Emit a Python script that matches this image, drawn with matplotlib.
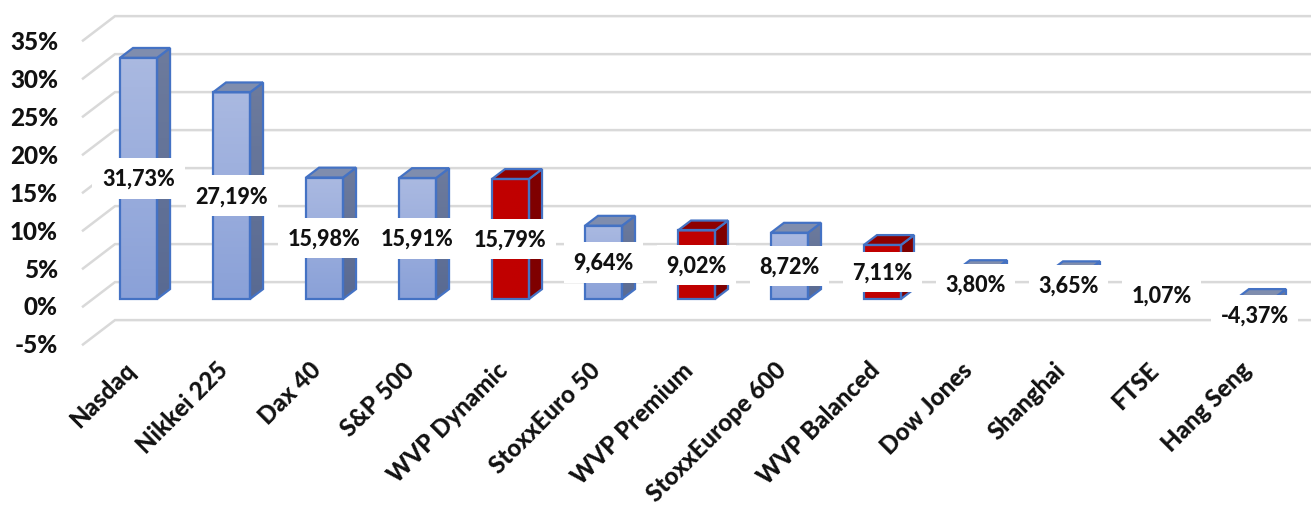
import numpy as np
import matplotlib
matplotlib.use("Agg")
import matplotlib.pyplot as plt
from matplotlib.patches import Polygon
from matplotlib.colors import LinearSegmentedColormap
from matplotlib.transforms import ScaledTranslation

categories = ["Nasdaq", "Nikkei 225", "Dax 40", "S&P 500", "WVP Dynamic", "StoxxEuro 50",
              "WVP Premium", "StoxxEurope 600", "WVP Balanced", "Dow Jones", "Shanghai", "FTSE", "Hang Seng"]
values = [31.73, 27.19, 15.98, 15.91, 15.79, 9.64, 9.02, 8.72, 7.11, 3.80, 3.65, 1.07, -4.37]
labels = ["31,73%", "27,19%", "15,98%", "15,91%", "15,79%", "9,64%", "9,02%", "8,72%", "7,11%",
          "3,80%", "3,65%", "1,07%", "-4,37%"]
highlighted = ["WVP Dynamic", "WVP Premium", "WVP Balanced"]
y_ticks = [-5, 0, 5, 10, 15, 20, 25, 30, 35]
y_tick_labels = ["-5%", "0%", "5%", "10%", "15%", "20%", "25%", "30%", "35%"]

plt.rcParams["font.family"] = ["Lato", "DejaVu Sans"]
WEIGHT = "black"
plt.rcParams["font.weight"] = WEIGHT
W, H = 1311, 506
fig = plt.figure(figsize=(W / 100, H / 100), dpi=100)
rect = [83 / W, 1 - 351.5 / H, (1311 - 83) / W, 340 / H]
XLIM = (-0.597, 12.608)

# wall axes: gridlines + y ticks
wall = fig.add_axes(rect)
wall.set_xlim(*XLIM)
wall.set_ylim(-5.79, 38.95)
wall.set_xticks([])
wall.set_yticks(y_ticks)
wall.set_yticklabels(y_tick_labels, fontsize=17.5, fontweight=WEIGHT, color="#111111")
wall.tick_params(axis="y", length=0, pad=18)
for t in wall.get_yticklabels():
    t.set_transform(t.get_transform() + ScaledTranslation(0, 1.5 / 100, fig.dpi_scale_trans))
for s in wall.spines.values():
    s.set_visible(False)
WALL_DX, WALL_DY = 0.344, 3.21
for v in y_ticks:
    wall.plot([XLIM[0], XLIM[0] + WALL_DX, XLIM[1]], [v, v + WALL_DY, v + WALL_DY],
              color="#D9D9D9", lw=1.8, solid_joinstyle="miter", clip_on=False)

# bars axes
ax = fig.add_axes(rect)
ax.patch.set_alpha(0)
ax.set_xlim(*XLIM)
ax.set_ylim(-6.78, 37.96)
ax.set_yticks([])
for s in ax.spines.values():
    s.set_visible(False)
x = np.arange(len(categories))
ax.set_xticks(x)
ax.set_xticklabels(categories, fontsize=17.3, fontweight=WEIGHT, rotation=45, ha="right",
                   va="top", rotation_mode="anchor", color="#111111")
ax.tick_params(axis="x", length=0, pad=5)
shift = ScaledTranslation(-15 / 100, 0, fig.dpi_scale_trans)
for t in ax.get_xticklabels():
    t.set_transform(t.get_transform() + shift)

BAR_W, DX, DY = 0.398, 0.14, 1.3
EDGE = "#4472C4"
LW = 1.6
blue_cmap = LinearSegmentedColormap.from_list("b", ["#AAB9E1", "#8AA1D8"])
blue_side = LinearSegmentedColormap.from_list("s", ["#6D7B9D", "#596A92"])
red_cmap = LinearSegmentedColormap.from_list("r", ["#C00000", "#C00000"])
red_side = LinearSegmentedColormap.from_list("rs", ["#7F0000", "#7F0000"])
grad = np.linspace(0, 1, 64).reshape(-1, 1)


def face(pts, cmap, top, bottom, left, right):
    p = Polygon(pts, closed=True, facecolor="none", edgecolor=EDGE, lw=LW, zorder=3, joinstyle="miter")
    ax.add_patch(p)
    im = ax.imshow(grad, cmap=cmap, extent=(left, right, bottom, top), aspect="auto", zorder=2.5)
    im.set_clip_path(p)


for xi, name, v, lab in zip(x, categories, values, labels):
    red = name in highlighted
    l, r = xi - BAR_W / 2, xi + BAR_W / 2
    hi, lo = max(v, 0), min(v, 0)
    # side
    face([(r, lo), (r + DX, lo + DY), (r + DX, hi + DY), (r, hi)],
         red_side if red else blue_side, hi + DY, lo, r, r + DX)
    # top
    ax.add_patch(Polygon([(l, hi), (l + DX, hi + DY), (r + DX, hi + DY), (r, hi)], closed=True,
                         facecolor="#8E0000" if red else "#7F8DAE", edgecolor=EDGE, lw=LW, zorder=3,
                         joinstyle="miter"))
    # front
    face([(l, lo), (l, hi), (r, hi), (r, lo)], red_cmap if red else blue_cmap, hi, lo, l, r)
    ax.text(xi, v / 2, lab, ha="center", va="center", fontsize=15.5, fontweight=WEIGHT, color="#111111",
            zorder=5, bbox=dict(boxstyle="square,pad=0.45", facecolor="white", edgecolor="none"))

ax.set_xlim(*XLIM)
ax.set_ylim(-6.78, 37.96)
fig.savefig("out.png", dpi=100)
